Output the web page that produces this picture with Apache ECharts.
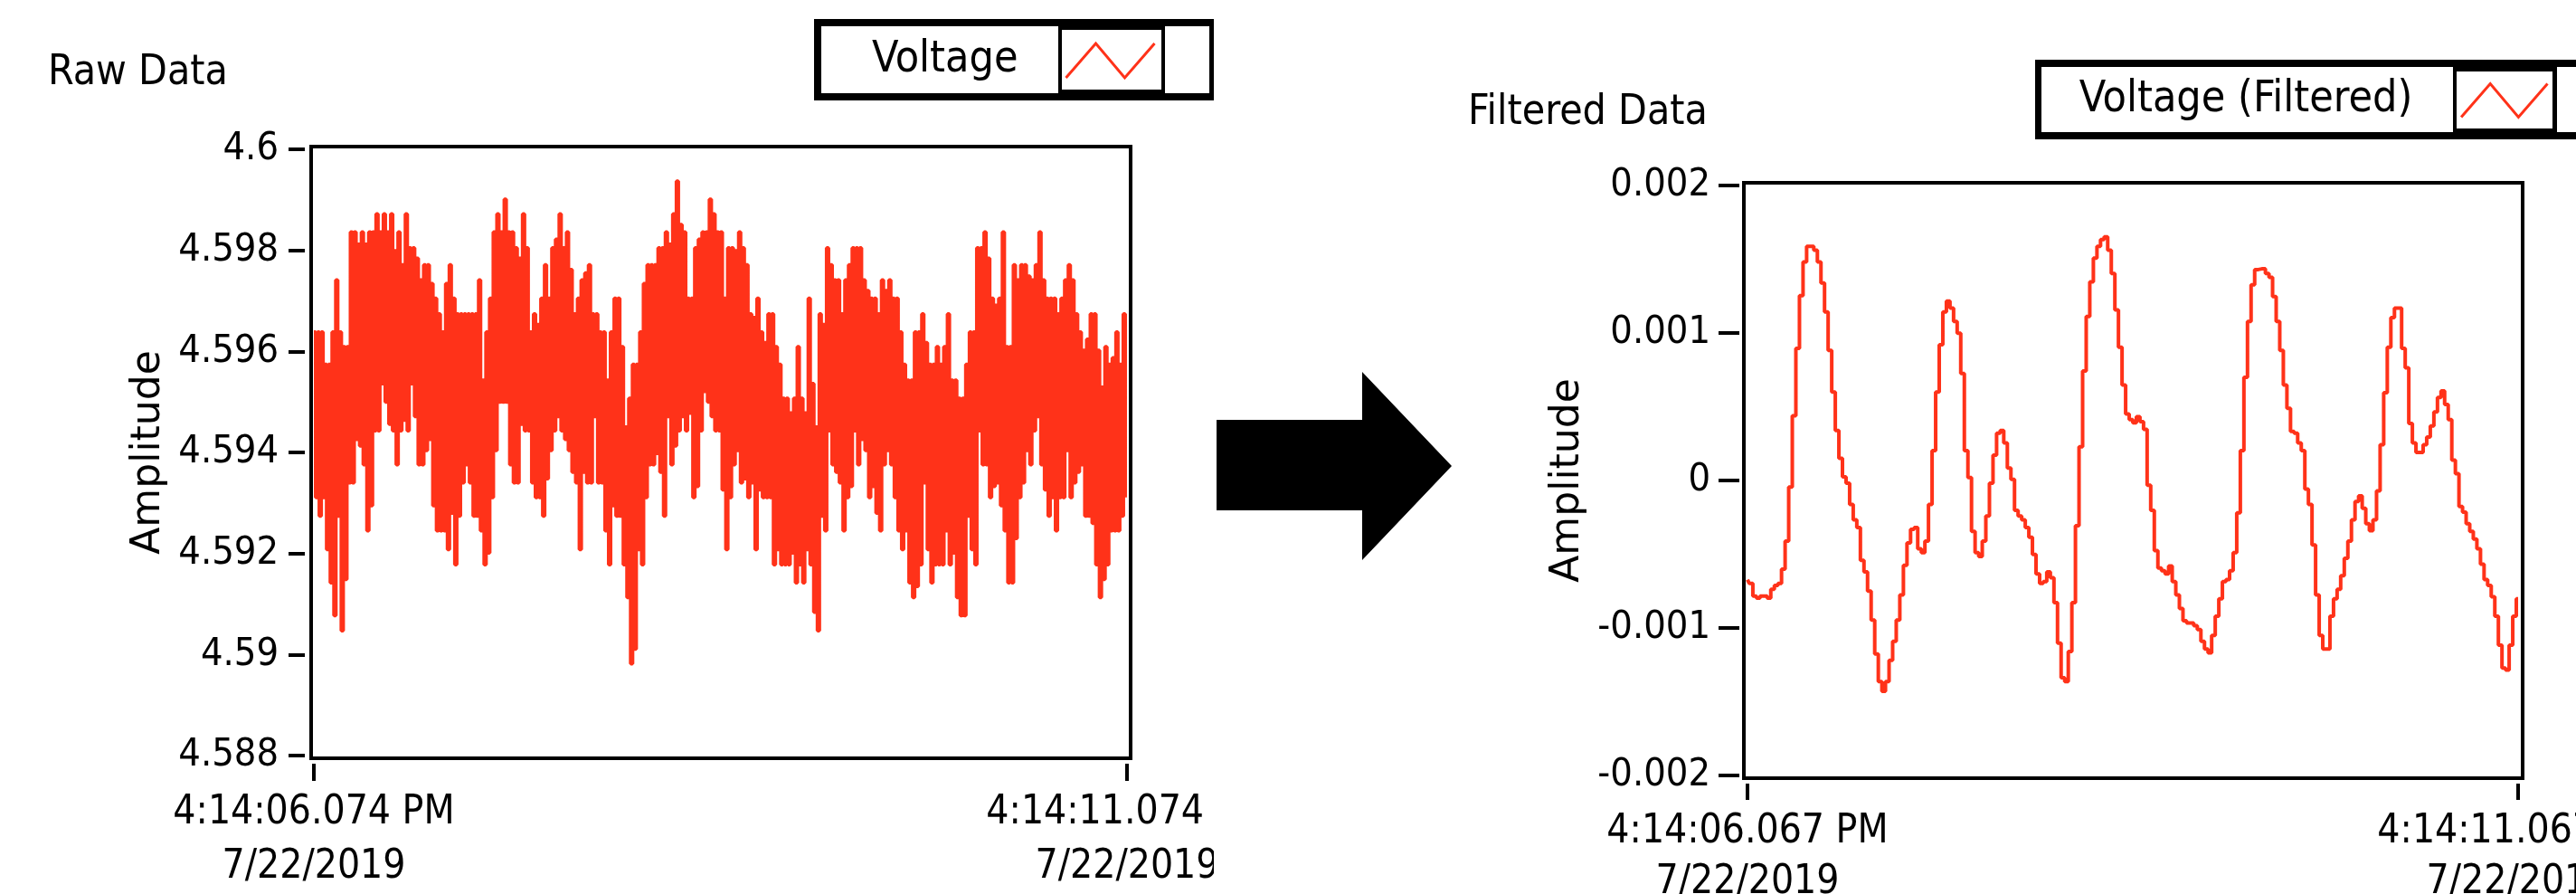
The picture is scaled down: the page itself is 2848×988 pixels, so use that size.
<!DOCTYPE html>
<html><head><meta charset="utf-8">
<script src="https://cdn.jsdelivr.net/npm/echarts@6/dist/echarts.min.js"></script>
<style>
html,body{margin:0;padding:0;background:#fff;width:2848px;height:988px;overflow:hidden;}
#rawChart{position:absolute;left:0;top:0;width:1342px;height:988px;}
#filtChart{position:absolute;left:1342px;top:0;width:1506px;height:988px;}
</style></head><body>
<div id="rawChart"></div><div id="filtChart"></div>
<script>
// ---------------- data ----------------
const rawTitle = 'Raw Data';
const filtTitle = 'Filtered Data';
const rawName = 'Voltage';
const filtName = 'Voltage (Filtered)';
const axisName = 'Amplitude';
const rawXTickLabels = ['4:14:06.074 PM\n7/22/2019', '4:14:11.074 PM\n7/22/2019'];
const filtXTickLabels = ['4:14:06.067 PM\n7/22/2019', '4:14:11.067 PM\n7/22/2019'];
const rawYTickLabels = ['4.588', '4.59', '4.592', '4.594', '4.596', '4.598', '4.6'];
const filtYTickLabels = ['-0.002', '-0.001', '0', '0.001', '0.002'];
const durationSec = 5;

// raw signal: per display column, the highest and lowest sample
const rawHigh = [
4.59638,4.59638,4.59638,4.59574,4.59574,4.59638,4.59741,4.59638,4.59609,4.59609,
4.59836,4.59836,4.59812,4.59836,4.59812,4.59836,4.59836,4.59872,4.59836,4.59872,
4.59836,4.59872,4.59799,4.59836,4.59771,4.59872,4.59805,4.59805,4.59784,4.59741,
4.59771,4.59771,4.59734,4.59705,4.59674,4.59638,4.59734,4.59771,4.59705,4.59674,
4.59674,4.59674,4.59674,4.59674,4.59674,4.59741,4.59543,4.59638,4.59705,4.59836,
4.59872,4.59836,4.59901,4.59836,4.59836,4.59805,4.59784,4.59872,4.59805,4.59638,
4.59674,4.59653,4.59705,4.59771,4.59705,4.59805,4.59822,4.59872,4.59805,4.59836,
4.59762,4.59674,4.59705,4.59741,4.59755,4.59771,4.59674,4.59674,4.59638,4.59638,
4.59543,4.59638,4.59705,4.59705,4.59609,4.59450,4.59507,4.59574,4.59574,4.59638,
4.59734,4.59771,4.59771,4.59771,4.59805,4.59805,4.59836,4.59812,4.59872,4.59937,
4.59851,4.59836,4.59705,4.59705,4.59805,4.59822,4.59836,4.59836,4.59901,4.59872,
4.59836,4.59836,4.59705,4.59805,4.59805,4.59799,4.59836,4.59805,4.59771,4.59674,
4.59667,4.59705,4.59638,4.59617,4.59674,4.59674,4.59609,4.59574,4.59507,4.59507,
4.59478,4.59507,4.59609,4.59507,4.59478,4.59705,4.59536,4.59450,4.59674,4.59653,
4.59805,4.59771,4.59741,4.59741,4.59674,4.59741,4.59771,4.59805,4.59805,4.59805,
4.59741,4.59720,4.59705,4.59705,4.59674,4.59741,4.59720,4.59741,4.59705,4.59705,
4.59638,4.59574,4.59543,4.59543,4.59638,4.59638,4.59674,4.59617,4.59574,4.59574,
4.59609,4.59574,4.59609,4.59674,4.59543,4.59543,4.59507,4.59507,4.59574,4.59638,
4.59638,4.59805,4.59805,4.59836,4.59784,4.59705,4.59691,4.59705,4.59836,4.59609,
4.59609,4.59771,4.59741,4.59771,4.59771,4.59749,4.59741,4.59771,4.59836,4.59741,
4.59705,4.59705,4.59705,4.59674,4.59705,4.59741,4.59771,4.59741,4.59674,4.59638,
4.59602,4.59624,4.59674,4.59674,4.59602,4.59529,4.59609,4.59574,4.59587,4.59638,
4.59574,4.59674
];
const rawLow = [
4.59311,4.59274,4.59311,4.59208,4.59142,4.59077,4.59274,4.59047,4.59149,4.59340,
4.59340,4.59426,4.59413,4.59376,4.59245,4.59295,4.59443,4.59443,4.59536,4.59500,
4.59456,4.59443,4.59376,4.59443,4.59464,4.59443,4.59536,4.59471,4.59376,4.59376,
4.59404,4.59426,4.59295,4.59245,4.59245,4.59245,4.59208,4.59280,4.59178,4.59274,
4.59340,4.59376,4.59340,4.59274,4.59274,4.59245,4.59178,4.59201,4.59311,4.59404,
4.59500,4.59500,4.59500,4.59376,4.59340,4.59340,4.59456,4.59443,4.59443,4.59340,
4.59311,4.59311,4.59274,4.59348,4.59404,4.59443,4.59471,4.59443,4.59426,4.59404,
4.59361,4.59340,4.59208,4.59361,4.59340,4.59340,4.59471,4.59340,4.59340,4.59245,
4.59178,4.59295,4.59274,4.59274,4.59178,4.59113,4.58982,4.59011,4.59208,4.59178,
4.59311,4.59376,4.59376,4.59398,4.59361,4.59274,4.59471,4.59376,4.59413,4.59443,
4.59471,4.59443,4.59478,4.59311,4.59333,4.59443,4.59521,4.59500,4.59471,4.59443,
4.59443,4.59326,4.59208,4.59311,4.59376,4.59404,4.59340,4.59348,4.59311,4.59340,
4.59208,4.59326,4.59311,4.59311,4.59311,4.59178,4.59208,4.59178,4.59178,4.59178,
4.59201,4.59142,4.59178,4.59142,4.59208,4.59178,4.59084,4.59047,4.59274,4.59245,
4.59443,4.59376,4.59361,4.59340,4.59245,4.59311,4.59333,4.59443,4.59376,4.59426,
4.59404,4.59311,4.59333,4.59280,4.59245,4.59376,4.59404,4.59376,4.59311,4.59245,
4.59208,4.59245,4.59142,4.59113,4.59135,4.59178,4.59340,4.59208,4.59142,4.59178,
4.59178,4.59178,4.59245,4.59178,4.59201,4.59113,4.59077,4.59077,4.59274,4.59208,
4.59178,4.59443,4.59376,4.59376,4.59311,4.59333,4.59340,4.59295,4.59245,4.59142,
4.59142,4.59230,4.59311,4.59340,4.59404,4.59376,4.59443,4.59471,4.59376,4.59326,
4.59274,4.59311,4.59245,4.59311,4.59311,4.59404,4.59311,4.59340,4.59361,4.59376,
4.59274,4.59274,4.59260,4.59178,4.59113,4.59149,4.59178,4.59245,4.59245,4.59245,
4.59274,4.59311
];

// filtered signal (V)
const filtered = [
-0.000672,-0.000698,-0.000784,-0.000797,-0.000784,-0.000784,-0.000797,-0.000737,-0.000711,-0.000698,
-0.000601,-0.000411,-0.000045,0.000438,0.000895,0.001253,0.001482,0.001587,0.001587,0.001561,
0.001482,0.001339,0.001143,0.000882,0.000600,0.000339,0.000151,0.000025,-0.000019,-0.000163,
-0.000267,-0.000319,-0.000541,-0.000620,-0.000750,-0.000946,-0.001176,-0.001364,-0.001429,-0.001364,
-0.001220,-0.001090,-0.000946,-0.000776,-0.000575,-0.000424,-0.000332,-0.000319,-0.000463,-0.000489,
-0.000411,-0.000163,0.000203,0.000600,0.000921,0.001143,0.001216,0.001169,0.001078,0.000999,
0.000725,0.000203,0.000020,-0.000345,-0.000489,-0.000515,-0.000411,-0.000241,-0.000019,0.000172,
0.000320,0.000339,0.000255,0.000085,0.000007,-0.000202,-0.000241,-0.000267,-0.000319,-0.000385,
-0.000502,-0.000633,-0.000698,-0.000685,-0.000620,-0.000659,-0.000828,-0.001103,-0.001338,-0.001364,
-0.001160,-0.000828,-0.000306,0.000229,0.000743,0.001112,0.001347,0.001508,0.001587,0.001634,
0.001652,0.001561,0.001404,0.001156,0.000903,0.000647,0.000451,0.000412,0.000391,0.000433,
0.000399,0.000347,-0.000032,-0.000202,-0.000476,-0.000594,-0.000612,-0.000633,-0.000580,-0.000685,
-0.000776,-0.000868,-0.000951,-0.000967,-0.000967,-0.000985,-0.001011,-0.001090,-0.001142,-0.001168,
-0.001050,-0.000920,-0.000802,-0.000685,-0.000672,-0.000612,-0.000489,-0.000220,0.000203,0.000699,
0.001078,0.001326,0.001430,0.001435,0.001435,0.001404,0.001378,0.001247,0.001078,0.000882,
0.000647,0.000490,0.000333,0.000320,0.000255,0.000203,-0.000058,-0.000163,-0.000437,-0.000776,
-0.001050,-0.001142,-0.001142,-0.000920,-0.000802,-0.000737,-0.000646,-0.000528,-0.000411,-0.000267,
-0.000142,-0.000105,-0.000189,-0.000293,-0.000340,-0.000267,-0.000071,0.000242,0.000595,0.000903,
0.001104,0.001169,0.001169,0.000895,0.000764,0.000386,0.000255,0.000190,0.000190,0.000242,
0.000294,0.000370,0.000464,0.000563,0.000608,0.000516,0.000412,0.000138,0.000046,-0.000176,
-0.000215,-0.000293,-0.000345,-0.000398,-0.000463,-0.000567,-0.000672,-0.000711,-0.000789,-0.000920,
-0.001116,-0.001272,-0.001285,-0.001116,-0.000920,-0.000802
];

// ---------------- styling ----------------
const RED = '#ff3219';
const NARROW = "'Liberation Sans Narrow','DejaVu Sans Condensed','Arial Narrow',sans-serif";
const WIDE = "'DejaVu Sans','Verdana',sans-serif";

// build point lists from the arrays (time axis in seconds)
const rawDt = durationSec / rawHigh.length;
const rawPoints = [];
rawHigh.forEach((h, i) => {
  rawPoints.push([i * rawDt, h]);
  rawPoints.push([(i + 0.5) * rawDt, rawLow[i]]);
});
const filtPoints = filtered.map((v, i) => [i * durationSec / (filtered.length - 1), v]);

function xAxisCfg(labels, offset, tickLen, margin, lineH) {
  return {
    type: 'value', min: 0, max: durationSec, interval: durationSec, offset: offset,
    axisLine: {show: false, onZero: false},
    axisTick: {show: true, length: tickLen, lineStyle: {color: '#000', width: 4}},
    splitLine: {show: false},
    axisLabel: {
      show: true, margin: margin, showMinLabel: true, showMaxLabel: true, hideOverlap: false,
      formatter: v => labels[Math.round(v / durationSec)],
      fontFamily: NARROW, fontSize: 44, lineHeight: lineH, color: '#000'
    }
  };
}
function yAxisCfg(labels, min, max, interval, offset, tickLen, margin, nameGap) {
  return {
    type: 'value', min: min, max: max, interval: interval, offset: offset,
    axisLine: {show: false, onZero: false},
    axisTick: {show: true, length: tickLen, lineStyle: {color: '#000', width: 4}},
    splitLine: {show: false},
    axisLabel: {
      margin: margin,
      formatter: v => labels[Math.round((v - min) / interval)],
      fontFamily: NARROW, fontSize: 43, color: '#000'
    },
    name: axisName, nameLocation: 'middle', nameRotate: 90, nameGap: nameGap,
    nameTextStyle: {fontFamily: WIDE, fontSize: 44, lineHeight: 44, color: '#000'}
  };
}
function legendCfg(name, right, top, w, h) {
  return {
    data: [name], right: right, top: top, align: 'right', padding: 0,
    itemWidth: w, itemHeight: h, selectedMode: false,
    icon: 'path://M0,38L33,0L65,38L98,0',
    itemStyle: {color: 'rgba(0,0,0,0)', borderColor: RED, borderWidth: 3},
    textStyle: {fontFamily: NARROW, fontSize: 48, color: '#000', padding: [6, 48, 0, 0]}
  };
}

// ---------------- raw chart ----------------
const rawChart = echarts.init(document.getElementById('rawChart'), null, {renderer: 'canvas'});
rawChart.setOption({
  animation: false,
  backgroundColor: '#fff',
  title: {text: rawTitle, left: 53, top: 58, padding: 0,
    textStyle: {fontFamily: NARROW, fontSize: 46, lineHeight: 46, fontWeight: 'normal', color: '#000'}},
  legend: legendCfg(rawName, 64, 43, 98, 38),
  grid: {left: 347, top: 165, width: 899, height: 670, show: false, outerBoundsMode: 'none', containLabel: false},
  xAxis: xAxisCfg(rawXTickLabels, 9, 19, 25, 60),
  yAxis: yAxisCfg(rawYTickLabels, 4.588, 4.6, 0.002, 10, 18, 29, 131),
  graphic: [
    {type: 'rect', z: 0, shape: {x: 900, y: 21, width: 450, height: 90}, style: {fill: '#000'}},
    {type: 'rect', z: 1, shape: {x: 908, y: 29, width: 262, height: 74}, style: {fill: '#fff'}},
    {type: 'rect', z: 1, shape: {x: 1174, y: 33, width: 110, height: 66}, style: {fill: '#fff'}},
    {type: 'rect', z: 1, shape: {x: 1288, y: 29, width: 49, height: 74}, style: {fill: '#fff'}},
    {type: 'rect', z: 100, shape: {x: 344, y: 162, width: 906, height: 676},
      style: {fill: 'none', stroke: '#000', lineWidth: 4}}
  ],
  series: [{
    type: 'line', name: rawName, data: rawPoints, step: 'end', symbol: 'none',
    lineStyle: {color: RED, width: 4}, itemStyle: {color: RED}
  }]
});

// ---------------- filtered chart ----------------
const filtChart = echarts.init(document.getElementById('filtChart'), null, {renderer: 'canvas'});
filtChart.setOption({
  animation: false,
  backgroundColor: '#fff',
  title: {text: filtTitle, left: 281, top: 102, padding: 0,
    textStyle: {fontFamily: NARROW, fontSize: 46, lineHeight: 46, fontWeight: 'normal', color: '#000'}},
  legend: legendCfg(filtName, 30, 87, 97, 37),
  grid: {left: 590, top: 205, width: 852, height: 652, show: false, outerBoundsMode: 'none', containLabel: false},
  xAxis: xAxisCfg(filtXTickLabels, 9, 18, 26, 56),
  yAxis: yAxisCfg(filtYTickLabels, -0.002, 0.002, 0.001, 9, 23, 32, 156),
  graphic: [
    {type: 'polygon', z: 0, shape: {points: [[3, 464], [164, 464], [164, 411], [263, 515], [164, 619], [164, 564], [3, 564]]},
      style: {fill: '#000'}},
    {type: 'rect', z: 0, shape: {x: 908, y: 66, width: 640, height: 88}, style: {fill: '#000'}},
    {type: 'rect', z: 1, shape: {x: 915, y: 74, width: 455, height: 72}, style: {fill: '#fff'}},
    {type: 'rect', z: 1, shape: {x: 1374, y: 79, width: 106, height: 63}, style: {fill: '#fff'}},
    {type: 'rect', z: 1, shape: {x: 1485, y: 74, width: 60, height: 72}, style: {fill: '#fff'}},
    {type: 'rect', z: 100, shape: {x: 586, y: 202, width: 861, height: 658},
      style: {fill: 'none', stroke: '#000', lineWidth: 4}}
  ],
  series: [{
    type: 'line', name: filtName, data: filtPoints, step: 'middle', symbol: 'none',
    lineStyle: {color: RED, width: 4}, itemStyle: {color: RED}
  }]
});
</script>
</body></html>
